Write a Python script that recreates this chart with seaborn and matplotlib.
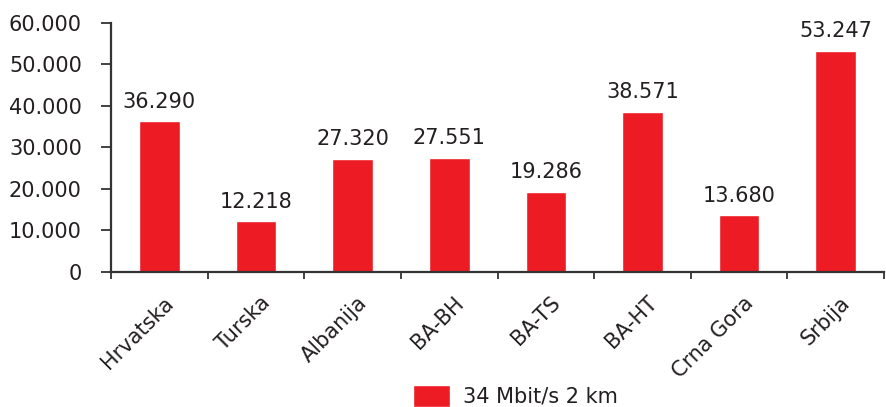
import matplotlib
matplotlib.use("Agg")
import matplotlib.pyplot as plt
import matplotlib.transforms as mtransforms
import seaborn as sns
import pandas as pd
from matplotlib.ticker import FuncFormatter, FixedLocator

countries = ["Hrvatska", "Turska", "Albanija", "BA-BH", "BA-TS", "BA-HT", "Crna Gora", "Srbija"]
prices = [36290, 12218, 27320, 27551, 19286, 38571, 13680, 53247]
series_name = "34 Mbit/s 2 km"
y_ticks = [0, 10000, 20000, 30000, 40000, 50000, 60000]

sns.set_theme(style="white")
plt.rcParams["font.family"] = ["DejaVu Sans"]
text_color = "#231F20"
bar_color = "#ED1C24"
axis_color = "#333333"

df = pd.DataFrame({"Zemlja": countries, "Cijena": prices, "Serija": series_name})

fig = plt.figure(figsize=(8.86, 4.07), dpi=100)
ax = fig.add_axes([0.1253, 0.3317, 0.8725, 0.6118])

sns.barplot(data=df, x="Zemlja", y="Cijena", hue="Serija", palette=[bar_color],
            width=0.42, saturation=1, ax=ax, legend=True)

ax.set_ylim(0, 60000)
ax.set_xlim(-0.5, len(countries) - 0.5)
ax.set_yticks(y_ticks)

def thousands(v, _):
    return f"{int(v):,}".replace(",", ".")

ax.yaxis.set_major_formatter(FuncFormatter(thousands))
ax.tick_params(axis="y", which="major", direction="out", length=7, width=1.3,
               color=axis_color, labelsize=15, labelcolor=text_color, pad=14, left=True)
ax.tick_params(axis="x", which="major", length=0, labelsize=15, labelcolor=text_color, pad=15)
ax.xaxis.set_minor_locator(FixedLocator([i - 0.5 for i in range(len(countries) + 1)]))
ax.tick_params(axis="x", which="minor", direction="out", length=5, width=1.3,
               color=axis_color, bottom=True)

ax.set_xticks(range(len(countries)))
ax.set_xticklabels(countries, rotation=45, ha="right", rotation_mode="anchor")
shift = mtransforms.ScaledTranslation(4 / 100, 0, fig.dpi_scale_trans)
for lbl in ax.get_xticklabels():
    lbl.set_transform(lbl.get_transform() + shift)

for side in ["top", "right"]:
    ax.spines[side].set_visible(False)
for side in ["left", "bottom"]:
    ax.spines[side].set_color(axis_color)
    ax.spines[side].set_linewidth(1.6)

ax.set_xlabel("")
ax.set_ylabel("")

for container in ax.containers:
    ax.bar_label(container, labels=[thousands(v, None) for v in prices],
                 padding=7, fontsize=15, color=text_color)

handles, labels = ax.get_legend_handles_labels()
ax.get_legend().remove()
fig.legend(handles, labels, loc="center", bbox_to_anchor=(0.582, 0.027), frameon=False,
           fontsize=15, handlelength=1.75, handleheight=1.2, handletextpad=0.65,
           labelcolor=text_color)

fig.savefig("out.png", dpi=100)
